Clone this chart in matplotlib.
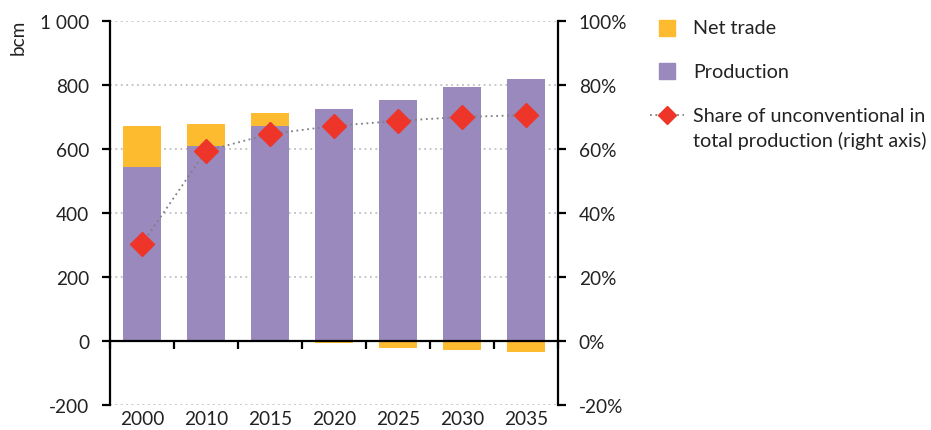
import numpy as np
import matplotlib
matplotlib.use("Agg")
import matplotlib.pyplot as plt
from matplotlib.lines import Line2D
from matplotlib.ticker import FuncFormatter

plt.rcParams['font.family'] = ['Lato', 'DejaVu Sans']

years = ['2000', '2010', '2015', '2020', '2025', '2030', '2035']
production = [544, 609, 672, 725, 753, 794, 819]
net_trade = [128, 69, 40, -5, -21, -27, -33]
share_unconv = [0.303, 0.594, 0.647, 0.672, 0.688, 0.70, 0.706]

purple = '#9a89bc'
orange = '#fdbb2f'
red = '#ee3529'
txt = '#222222'
fs = 13.7
fs_leg = 14.2

fig = plt.figure(figsize=(9.31, 4.31), dpi=100)
ax = fig.add_axes([110 / 931, 25 / 431, 448 / 931, 384 / 431])

x = np.arange(len(years))
prod = np.array(production)
trade = np.array(net_trade)
w = 0.58

ax.bar(x, prod, width=w, color=purple, zorder=2)
ax.bar(x, trade, width=w, bottom=np.where(trade > 0, prod, 0), color=orange, zorder=2)

ax.set_xlim(-0.5, len(years) - 0.5)
ax.set_ylim(-200, 1000)
ax.set_yticks(range(-200, 1001, 200))
ax.yaxis.set_major_formatter(FuncFormatter(lambda v, p: f"{int(v):,}".replace(",", " ")))
ax.yaxis.grid(True, linestyle=(0, (1, 2)), color='#c0c0c0', linewidth=1.3, zorder=0)
ax.set_axisbelow(True)

# x axis drawn at zero, ticks between categories
ax.spines['bottom'].set_position(('data', 0))
ax.spines['bottom'].set_linewidth(1.6)
ax.spines['top'].set_visible(False)
ax.spines['right'].set_visible(False)
ax.spines['left'].set_linewidth(1.6)
ax.set_xticks(np.arange(-0.5, len(years), 1.0))
ax.set_xticklabels([])
ax.tick_params(axis='x', direction='out', length=6, width=1.6)
ax.tick_params(axis='y', direction='out', length=6, width=1.6, labelsize=fs, labelcolor=txt, pad=9)

sec = ax.secondary_xaxis('bottom')
sec.set_xticks(x)
sec.set_xticklabels(years)
sec.tick_params(length=0, labelsize=fs, labelcolor=txt, pad=3.5)
sec.spines['bottom'].set_visible(False)

ax.set_ylabel('bcm', fontsize=fs, color=txt)
ax.yaxis.set_label_coords(-0.185, 0.96)

ax2 = ax.twinx()
ax2.set_ylim(-0.2, 1.0)
ax2.set_yticks(np.arange(-0.2, 1.01, 0.2))
ax2.yaxis.set_major_formatter(FuncFormatter(lambda v, p: f"{round(v * 100):d}%"))
ax2.plot(x, share_unconv, linestyle=(0, (1, 2)), color='#808080', linewidth=1.3,
         marker='D', markersize=12, markerfacecolor=red, markeredgecolor=red, zorder=3)
for s in ['top', 'left', 'bottom']:
    ax2.spines[s].set_visible(False)
ax2.spines['right'].set_linewidth(1.6)
ax2.tick_params(axis='y', direction='out', length=6, width=1.6, labelsize=fs, labelcolor=txt, pad=9)

# legend
def fx(px):
    return px / 931

def fy(py):
    return 1 - py / 431

fig.add_artist(Line2D([fx(667)], [fy(29)], marker='s', markersize=12, color=orange, linestyle='none'))
fig.add_artist(Line2D([fx(667)], [fy(72)], marker='s', markersize=12, color=purple, linestyle='none'))
fig.add_artist(Line2D([fx(650), fx(684)], [fy(116), fy(116)], linestyle=(0, (1, 2)), color='#808080', linewidth=1.3))
fig.add_artist(Line2D([fx(667)], [fy(116)], marker='D', markersize=9, color=red, linestyle='none'))
fig.text(fx(693), fy(29), 'Net trade', fontsize=fs_leg, color=txt, va='center')
fig.text(fx(693), fy(72), 'Production', fontsize=fs_leg, color=txt, va='center')
fig.text(fx(693), fy(116), 'Share of unconventional in', fontsize=fs_leg, color=txt, va='center')
fig.text(fx(693), fy(141), 'total production (right axis)', fontsize=fs_leg, color=txt, va='center')

fig.savefig('out.png', dpi=100)
